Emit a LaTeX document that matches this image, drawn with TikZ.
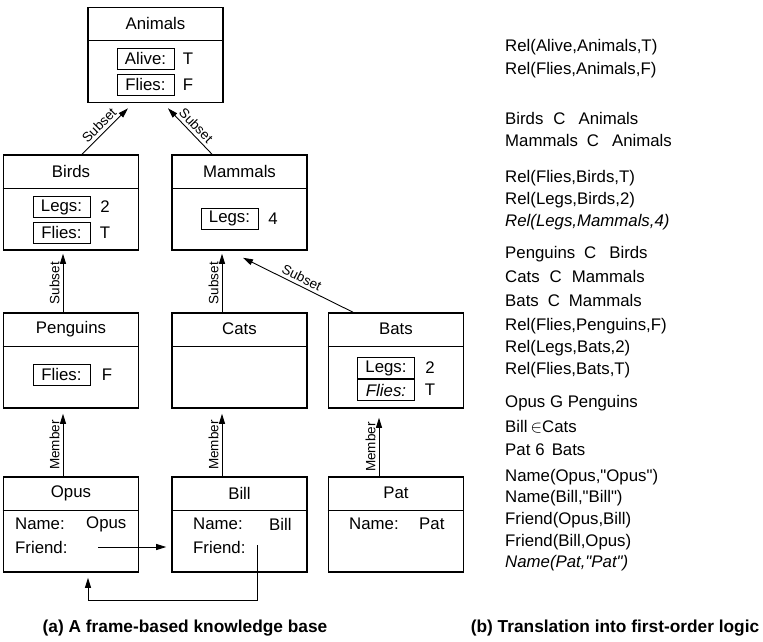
\documentclass[tikz,border=0pt]{standalone}
\usepackage{fontspec}
\setmainfont{Liberation Sans}[Ligatures=TeXOff]
\usetikzlibrary{arrows.meta, positioning, calc}

\tikzset{
  frame/.style={draw, line width=1.6pt, minimum width=135pt, minimum height=95pt, inner sep=0pt},
  title/.style={font=\fontsize{16.8}{20}\selectfont},
  slot/.style={draw, line width=0.8pt, minimum width=57pt, minimum height=21pt, inner sep=0pt, font=\fontsize{16.8}{20}\selectfont},
  txt/.style={font=\fontsize{16.8}{20}\selectfont, inner sep=0pt},
  link/.style={line width=0.9pt, -{Triangle[length=10pt,width=6pt]}},
  lbl/.style={font=\fontsize{13.5}{15}\selectfont, sloped, above, inner sep=3pt},
  caption/.style={font=\fontsize{17.3}{20}\selectfont\bfseries}
}

\begin{document}
\begin{tikzpicture}[x=1pt,y=-1pt]
\useasboundingbox (0,0) rectangle (763,642);

% Frames with their titles
\foreach \n/\t/\x/\y in {animals/Animals/155.5/55, birds/Birds/71/202.5, mammals/Mammals/239.5/202.5,
    penguins/Penguins/71/360.5, cats/Cats/239.5/360.5, bats/Bats/396/360.5,
    opus/Opus/71/524.5, bill/Bill/239.5/524.5, pat/Pat/396/524.5}{
  \node[frame] (\n) at (\x,\y) {};
  \node[title] (\n-name) at ([yshift=-17pt]\n.north) {\t};
  \draw[line width=0.9pt] ([yshift=-34pt]\n.north west) -- ([yshift=-34pt]\n.north east);
}

% Slots
\node[slot] (animals-alive) at (145.5,58.5) {Alive:};
\node[txt] (animals-alive-v) at (188,58.5) {T};
\node[slot] (animals-flies) at (145.5,84.5) {Flies:};
\node[txt] (animals-flies-v) at (188,84.5) {F};
\node[slot] (birds-legs) at (61.5,207) {Legs:};
\node[txt] (birds-legs-v) at (105,207) {2};
\node[slot] (birds-flies) at (61.5,232.5) {Flies:};
\node[txt] (birds-flies-v) at (105,232.5) {T};
\node[slot] (mammals-legs) at (229.5,218.5) {Legs:};
\node[txt] (mammals-legs-v) at (273,218.5) {4};
\node[slot] (penguins-flies) at (61.5,374.5) {Flies:};
\node[txt] (penguins-flies-v) at (107,374.5) {F};
\node[slot] (bats-legs) at (386,368) {Legs:};
\node[txt] (bats-legs-v) at (430,368) {2};
\node[slot] (bats-flies) at (386,390) {\itshape Flies:};
\node[txt] (bats-flies-v) at (430,390) {T};

% Instance slots
\node[txt, anchor=west] (opus-n) at (15,524) {Name:};
\node[txt, anchor=west] (opus-nv) at (86,524) {Opus};
\node[txt, anchor=west] (opus-f) at (15,547) {Friend:};
\node[txt, anchor=west] (bill-n) at (193,524) {Name:};
\node[txt, anchor=west] (bill-nv) at (269,524) {Bill};
\node[txt, anchor=west] (bill-f) at (193,547) {Friend:};
\node[txt, anchor=west] (pat-n) at (349,524) {Name:};
\node[txt, anchor=west] (pat-nv) at (419,524) {Pat};

% Subset links
\draw[link] ([xshift=11pt]birds.north) -- ([xshift=-27.5pt,yshift=-5pt]animals.south) node[lbl, midway] {Subset};
\draw[link] ([xshift=-27.5pt]mammals.north) -- ([xshift=12.5pt,yshift=-5pt]animals.south) node[lbl, midway] {Subset};
\draw[link] ([xshift=-8pt]penguins.north) -- ([xshift=-8pt,yshift=-3pt]birds.south) node[lbl, midway] {Subset};
\draw[link] ([xshift=-17.5pt]cats.north) -- ([xshift=-17.5pt,yshift=-3pt]mammals.south) node[lbl, midway] {Subset};
\draw[link] ([xshift=-43pt]bats.north) -- ([xshift=3.5pt,yshift=-7pt]mammals.south) node[lbl, midway] {Subset};

% Member links
\draw[link] ([xshift=-8pt]opus.north) -- ([xshift=-8pt,yshift=-5pt]penguins.south) node[lbl, midway] {Member};
\draw[link] ([xshift=-17.5pt]bill.north) -- ([xshift=-17.5pt,yshift=-5pt]cats.south) node[lbl, midway] {Member};
\draw[link] ([xshift=-17pt]pat.north) -- ([xshift=-17pt,yshift=-9pt]bats.south) node[lbl, midway] {Member};

% Friend pointers
\coordinate (opus-ptr) at (98,547);
\coordinate (bill-ptr) at (257,545);
\draw[link, shorten >=5pt] (opus-ptr) -- (opus-ptr -| bill.west);
\draw[link, shorten >=5pt] (bill-ptr) -- ++(0,55) -| ([xshift=17pt]opus.south);

% First-order logic
\foreach \y/\t [count=\i] in {47/{Rel(Alive,Animals,T)}, 70/{Rel(Flies,Animals,F)},
    118/{Birds\hspace{10pt}C\hspace{13pt}Animals}, 140/{Mammals\hspace{9pt}C\hspace{13pt}Animals},
    178/{Rel(Flies,Birds,T)}, 200/{Rel(Legs,Birds,2)}, 222/{\itshape Rel(Legs,Mammals,4)},
    254/{Penguins\hspace{9pt}C\hspace{13pt}Birds}, 276/{Cats\hspace{10pt}C\hspace{10pt}Mammals},
    300/{Bats\hspace{9pt}C\hspace{9pt}Mammals}, 326/{Rel(Flies,Penguins,F)},
    348/{Rel(Legs,Bats,2)}, 370/{Rel(Flies,Bats,T)}, 403/{Opus G Penguins},
    427/{Bill\hspace{3pt}$\in$Cats}, 450/{Pat\hspace{5pt}6\hspace{7pt}Bats},
    477/{Name(Opus,"Opus")}, 498/{Name(Bill,"Bill")}, 520/{Friend(Opus,Bill)},
    542/{Friend(Bill,Opus)}, 563/{\itshape Name(Pat,"Pat")}}
  \node[txt, anchor=west] (fol\i) at (505,\y) {\t};

% Captions
\node[caption] (cap-a) at (185,628) {(a) A frame-based knowledge base};
\node[caption] (cap-b) at (615,628) {(b) Translation into first-order logic};
\end{tikzpicture}
\end{document}
